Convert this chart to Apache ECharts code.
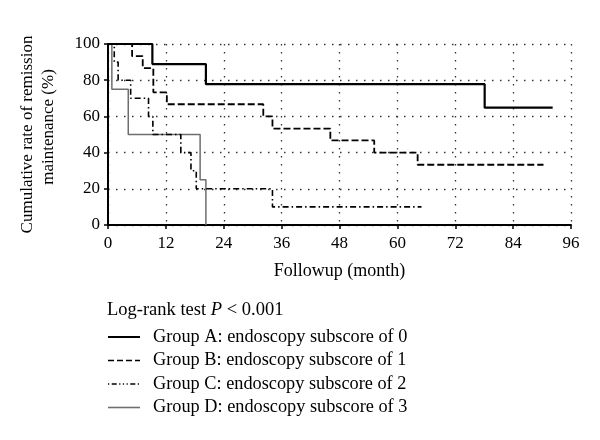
<!DOCTYPE html>
<html><head><meta charset="utf-8">
<script src="https://cdn.jsdelivr.net/npm/echarts@6/dist/echarts.min.js"></script>
<style>html,body{margin:0;padding:0;background:#fff}#c{width:600px;height:440px}</style>
</head><body><div id="c"></div>
<script>
// Kaplan-Meier step data (months, % in remission)
const groupNames = [
  'Group A: endoscopy subscore of 0',
  'Group B: endoscopy subscore of 1',
  'Group C: endoscopy subscore of 2',
  'Group D: endoscopy subscore of 3'
];
const timesA = [0, 9.2, 20.3, 78.1, 92.2];
const survA  = [100, 88.9, 77.8, 64.8, 64.8];
const timesB = [0, 5, 7.2, 9.4, 12.2, 32.2, 34.1, 46.1, 55.2, 64.2, 90.3];
const survB  = [100, 93.3, 86.7, 73.3, 66.7, 60, 53.3, 46.7, 40, 33.3, 33.3];
const timesC = [0, 1.3, 2.1, 4.7, 8.4, 9.3, 15.1, 17.2, 18.3, 34.1, 65];
const survC  = [100, 90, 80, 70, 60, 50, 40, 30, 20, 10, 10];
const timesD = [0, 0.8, 4.2, 19.1, 20.3];
const survD  = [100, 75, 50, 25, 0];
const pText = 'Log-rank test ';
const pValue = ' < 0.001';
const xTitle = 'Followup (month)';
const yTitle1 = 'Cumulative rate of remission';
const yTitle2 = 'maintenance (%)';

const FONT = 'Liberation Serif';
const pairs = (t, s) => t.map((x, i) => [x, s[i]]);
const styles = [
  {color: '#000', width: 2.2, type: 'solid'},
  {color: '#000', width: 1.8, type: [7, 3]},
  {color: '#000', width: 1.6, type: [6, 3, 1.5, 3]},
  {color: '#6e6e6e', width: 1.5, type: 'solid'}
];
const data = [pairs(timesA, survA), pairs(timesB, survB), pairs(timesC, survC), pairs(timesD, survD)];
const z = [5, 4, 3, 2];

const series = data.map((d, i) => ({
  name: groupNames[i], type: 'line', step: 'end', data: d,
  showSymbol: false, symbol: 'none', z: z[i],
  lineStyle: {color: styles[i].color, width: styles[i].width, type: styles[i].type},
  itemStyle: {color: styles[i].color}, animation: false
}));

const graphic = [
  {type: 'text', x: 28, y: 134.5, rotation: Math.PI / 2,
   style: {text: yTitle1, font: '17px "' + FONT + '"', fill: '#000', align: 'center', verticalAlign: 'middle'}},
  {type: 'text', x: 49, y: 127, rotation: Math.PI / 2,
   style: {text: yTitle2, font: '17px "' + FONT + '"', fill: '#000', align: 'center', verticalAlign: 'middle'}},
  {type: 'text', x: 107, y: 310,
   style: {text: '{n|' + pText + '}{i|P}{n|' + pValue + '}', verticalAlign: 'middle', align: 'left',
     rich: {n: {fontFamily: FONT, fontSize: 18.5, fill: '#000'}, i: {fontFamily: FONT, fontSize: 18.5, fontStyle: 'italic', fill: '#000'}}}}
];
const legendY = [337, 360.5, 384, 407.5];
groupNames.forEach((n, i) => {
  graphic.push({type: 'line', shape: {x1: 108, y1: legendY[i], x2: 140, y2: legendY[i]},
    style: {stroke: styles[i].color, lineWidth: i === 0 ? 2 : 1.6,
      lineDash: i === 1 ? [6, 3] : (i === 2 ? [1.2, 2.5, 5, 2.5, 1.2, 2.5, 1.2, 2.5] : null)}});
  graphic.push({type: 'text', x: 153, y: legendY[i],
    style: {text: n, font: '18.3px "' + FONT + '"', fill: '#000', verticalAlign: 'middle', align: 'left'}});
});

const chart = echarts.init(document.getElementById('c'), null, {renderer: 'canvas'});
chart.setOption({
  backgroundColor: '#fff',
  animation: false,
  grid: {left: 108, right: 29, top: 44, bottom: 215, containLabel: false},
  xAxis: {
    type: 'value', min: 0, max: 96, interval: 12,
    name: xTitle, nameLocation: 'middle', nameGap: 37,
    nameTextStyle: {fontFamily: FONT, fontSize: 18, color: '#000'},
    axisLine: {lineStyle: {color: '#000', width: 2}},
    axisTick: {show: true, length: 4, lineStyle: {color: '#000', width: 1.5}},
    axisLabel: {fontFamily: FONT, fontSize: 17, color: '#000', margin: 10},
    splitLine: {show: true, lineStyle: {color: '#333', width: 1.3, type: [1.5, 6.5]}}
  },
  yAxis: {
    type: 'value', min: 0, max: 100, interval: 20,
    axisLine: {show: true, lineStyle: {color: '#000', width: 2}},
    axisTick: {show: true, length: 4, lineStyle: {color: '#000', width: 1.5}},
    axisLabel: {fontFamily: FONT, fontSize: 17, color: '#000', margin: 8},
    splitLine: {show: true, lineStyle: {color: '#333', width: 1.3, type: [1.5, 6.5]}}
  },
  series: series,
  graphic: graphic
});
</script>
</body></html>
